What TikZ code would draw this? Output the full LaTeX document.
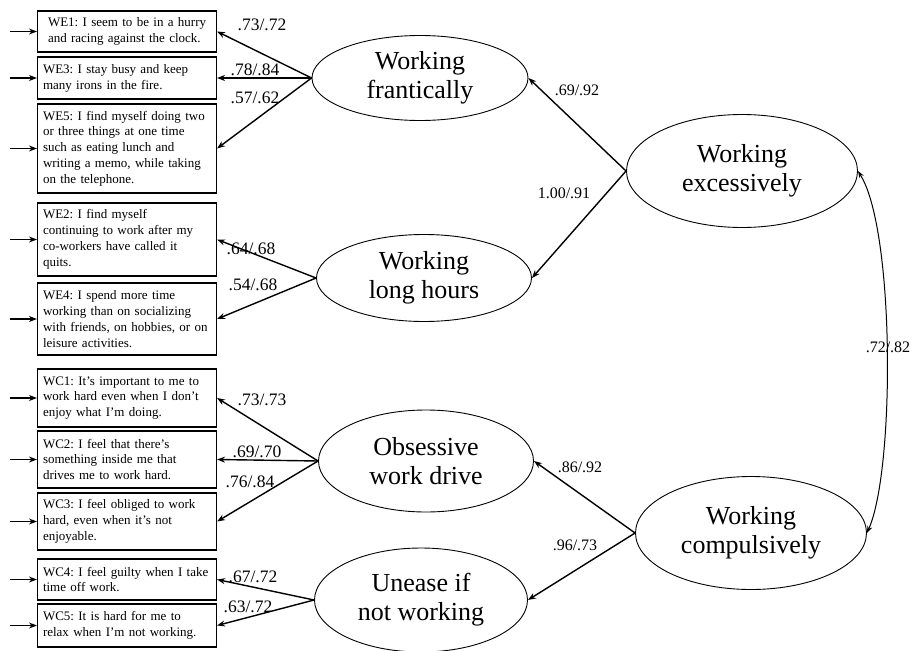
\documentclass[tikz,border=0pt]{standalone}
\usepackage{fontspec}
\setmainfont{Liberation Serif}
\usetikzlibrary{arrows.meta,shapes.geometric}
\begin{document}
\begin{tikzpicture}[x=1pt,y=-1pt,
 item/.style={draw,line width=1.1pt,minimum width=179pt,text width=168pt,align=left,inner xsep=5.5pt,inner ysep=0pt,font=\fontsize{13}{15.8}\selectfont\frenchspacing},
 lat/.style={draw,ellipse,line width=0.9pt,inner sep=0pt,align=center,font=\fontsize{26}{29}\selectfont},
 arr/.style={line width=1.4pt,-{Stealth[length=8pt,width=6pt]}},
 arrs/.style={line width=1.0pt,{Stealth[length=7pt,width=5pt]}-{Stealth[length=7pt,width=5pt]}},
 coef/.style={font=\fontsize{17.5}{17.5}\selectfont,inner sep=0pt},
 coefs/.style={font=\fontsize{16}{16}\selectfont,inner sep=0pt}]
\useasboundingbox (0,0) rectangle (912,650);

% indicator boxes
\node[item,minimum height=41pt] (we1) at (127,31.5) {\hspace*{5pt}WE1: I seem to be in a hurry\\\hspace*{5pt}and racing against the clock.};
\node[item,minimum height=42pt] (we3) at (127,78) {WE3: I stay busy and keep\\many irons in the fire.};
\node[item,minimum height=89pt] (we5) at (127,148.5) {WE5: I find myself doing two\\or three things at one time\\such as eating lunch and\\writing a memo, while taking\\on the telephone.};
\node[item,minimum height=73pt] (we2) at (127,239.5) {WE2: I find myself\\continuing to work after my\\co-workers have called it\\quits.};
\node[item,minimum height=72pt] (we4) at (127,319) {WE4: I spend more time\\working than on socializing\\with friends, on hobbies, or on\\leisure activities.};
\node[item,minimum height=58pt] (wc1) at (127,398) {WC1: It’s important to me to\\work hard even when I don’t\\enjoy what I’m doing.};
\node[item,minimum height=57pt] (wc2) at (127,459.5) {WC2: I feel that there’s\\something inside me that\\drives me to work hard.};
\node[item,minimum height=57pt] (wc3) at (127,521.5) {WC3: I feel obliged to work\\hard, even when it’s not\\enjoyable.};
\node[item,minimum height=41pt] (wc4) at (127,579.5) {WC4: I feel guilty when I take\\time off work.};
\node[item,minimum height=43pt] (wc5) at (127,625.5) {WC5: It is hard for me to\\relax when I’m not working.};

% error arrows
\foreach \n/\y in {we1/31.5,we3/78,we5/148.5,we2/239.5,we4/319,wc1/398,wc2/459.5,wc3/521.5,wc4/579.5,wc5/625.5}{
  \coordinate (e-\n) at (10,\y);
  \draw[arr] (e-\n) -- (\n.west);
}

% latent variables
\node[lat,minimum width=216pt,minimum height=85pt] (fr) at (420,78) {Working\\frantically};
\node[lat,minimum width=215pt,minimum height=87pt] (lh) at (424,278) {Working\\long hours};
\node[lat,minimum width=215pt,minimum height=102pt] (ob) at (426,461) {Obsessive\\work drive};
\node[lat,minimum width=213pt,minimum height=104pt] (un) at (421,600) {Unease if\\not working};
\node[lat,minimum width=231pt,minimum height=113pt] (ex) at (742,171) {Working\\excessively};
\node[lat,minimum width=231pt,minimum height=113pt] (co) at (751,533) {Working\\compulsively};

% loadings
\draw[arr] (fr.west) -- (we1.east);
\draw[arr] (fr.west) -- (we3.east);
\draw[arr] (fr.west) -- (we5.east);
\draw[arr] (lh.west) -- (we2.east);
\draw[arr] (lh.west) -- (we4.east);
\draw[arr] (ob.west) -- (wc1.east);
\draw[arr] (ob.west) -- (wc2.east);
\draw[arr] (ob.west) -- (wc3.east);
\draw[arr] (un.west) -- (wc4.east);
\draw[arr] (un.west) -- (wc5.east);
\draw[arr] (ex.west) -- (fr.east);
\draw[arr] (ex.west) -- (lh.east);
\draw[arr] (co.west) -- (ob.east);
\draw[arr] (co.west) -- (un.east);
\draw[arrs] (ex.east) .. controls (895,230) and (895,470) .. (co.east);

% coefficients
\node[coef] (c1) at (262,25) {.73/.72};
\node[coef] (c2) at (255,70) {.78/.84};
\node[coef] (c3) at (255,98) {.57/.62};
\node[coef] (c4) at (251,249) {.64/.68};
\node[coef] (c5) at (253,285) {.54/.68};
\node[coef] (c6) at (262,400) {.73/.73};
\node[coef] (c7) at (257,452) {.69/.70};
\node[coef] (c8) at (250,482) {.76/.84};
\node[coef] (c9) at (253,577) {.67/.72};
\node[coef] (c10) at (248,607) {.63/.72};
\node[coefs] (c11) at (577,90) {.69/.92};
\node[coefs] (c12) at (564,193) {1.00/.91};
\node[coefs] (c13) at (580,467) {.86/.92};
\node[coefs] (c14) at (575,545) {.96/.73};
\node[coefs] (c15) at (888,347) {.72/.82};
\end{tikzpicture}
\end{document}
